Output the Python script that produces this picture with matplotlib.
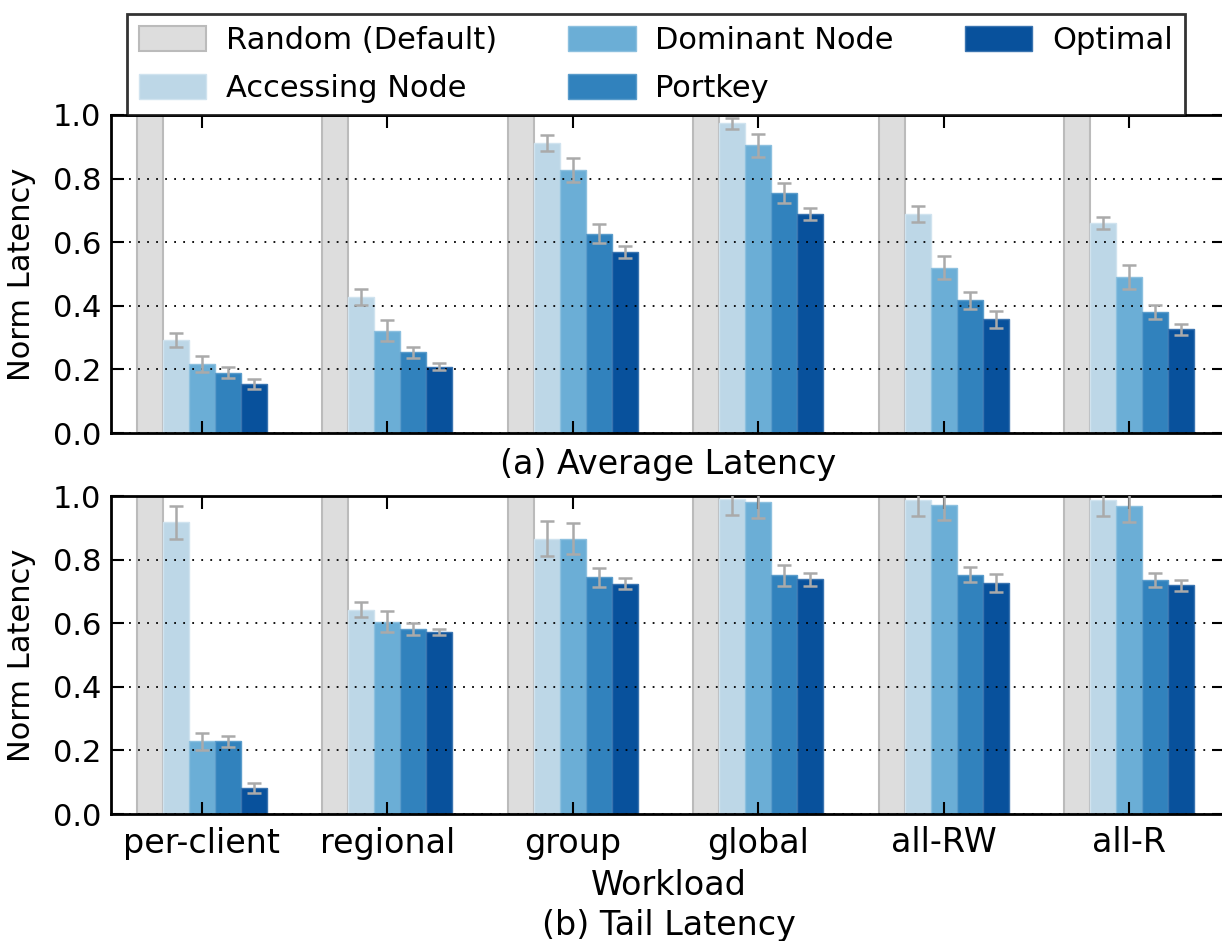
import matplotlib
matplotlib.use('Agg')
import matplotlib.pyplot as plt
import numpy as np

plt.rcParams['font.family'] = ['DejaVu Sans']

workloads = ['per-client', 'regional', 'group', 'global', 'all-RW', 'all-R']
series = ['Random (Default)', 'Accessing Node', 'Dominant Node', 'Portkey', 'Optimal']

# (a) Average latency
avg_random = [1.0, 1.0, 1.0, 1.0, 1.0, 1.0]
avg_accessing = [0.292, 0.428, 0.912, 0.974, 0.689, 0.660]
avg_dominant = [0.217, 0.321, 0.826, 0.905, 0.520, 0.491]
avg_portkey = [0.190, 0.254, 0.626, 0.754, 0.417, 0.380]
avg_optimal = [0.155, 0.209, 0.569, 0.689, 0.358, 0.326]
avg_accessing_err = [0.022, 0.025, 0.024, 0.018, 0.024, 0.020]
avg_dominant_err = [0.026, 0.033, 0.038, 0.036, 0.037, 0.037]
avg_portkey_err = [0.017, 0.018, 0.030, 0.032, 0.026, 0.023]
avg_optimal_err = [0.016, 0.010, 0.018, 0.020, 0.027, 0.018]

# (b) Tail latency
tail_random = [1.0, 1.0, 1.0, 1.0, 1.0, 1.0]
tail_accessing = [0.917, 0.643, 0.866, 0.989, 0.987, 0.987]
tail_dominant = [0.229, 0.605, 0.866, 0.981, 0.973, 0.967]
tail_portkey = [0.229, 0.582, 0.744, 0.751, 0.753, 0.735]
tail_optimal = [0.081, 0.572, 0.724, 0.738, 0.727, 0.719]
tail_accessing_err = [0.052, 0.024, 0.054, 0.050, 0.049, 0.049]
tail_dominant_err = [0.027, 0.033, 0.048, 0.050, 0.050, 0.050]
tail_portkey_err = [0.017, 0.018, 0.030, 0.033, 0.025, 0.022]
tail_optimal_err = [0.016, 0.010, 0.017, 0.021, 0.028, 0.017]

colors = ['#dddddd', '#bdd7e7', '#6baed6', '#3182bd', '#08519c']
edges = ['#bbbbbb', '#d0e3ef', '#8cc0df', '#5a9ccb', '#3a74b0']
W = 1222
H = 941
fig = plt.figure(figsize=(W / 100, H / 100), dpi=100)
ax1 = fig.add_axes([111 / W, (H - 433) / H, 1113 / W, 318 / H])
ax2 = fig.add_axes([111 / W, (H - 814) / H, 1113 / W, 318 / H])

x = np.arange(len(workloads))
bw = 0.14


def draw(ax, vals, errs):
    handles = []
    for i, (v, c, ec) in enumerate(zip(vals, colors, edges)):
        off = (i - 2) * bw
        lw = 1.5 if i == 0 else 1.0
        h = ax.bar(x + off, v, bw, color=c, edgecolor=ec, linewidth=lw,
                   label=series[i], zorder=2)
        handles.append(h)
        if errs[i] is not None:
            ax.errorbar(x + off, v, yerr=errs[i], fmt='none', ecolor='#aaaaaa',
                        elinewidth=1.8, capsize=5, capthick=1.8, zorder=3)
    ax.set_xlim(-0.49, 5.51)
    ax.set_ylim(0, 1.0)
    ax.set_yticks([0.0, 0.2, 0.4, 0.6, 0.8, 1.0])
    ax.set_yticklabels(['0.0', '0.2', '0.4', '0.6', '0.8', '1.0'])
    ax.set_xticks(x)
    ax.yaxis.grid(True, linestyle=(0, (1, 4)), color='black', linewidth=1.3, zorder=1)
    ax.set_axisbelow(False)
    ax.tick_params(axis='both', direction='in', length=9, width=1.5,
                   top=True, right=True, labelsize=22, pad=7)
    ax.tick_params(axis='x', labelsize=24, pad=9)
    for s in ax.spines.values():
        s.set_linewidth(2)
    ax.set_ylabel('Norm Latency', fontsize=22)
    ax.yaxis.set_label_coords(-0.067, 0.5)
    return handles


handles = draw(ax1, [avg_random, avg_accessing, avg_dominant, avg_portkey, avg_optimal],
               [None, avg_accessing_err, avg_dominant_err, avg_portkey_err, avg_optimal_err])
ax1.set_xticklabels([])
draw(ax2, [tail_random, tail_accessing, tail_dominant, tail_portkey, tail_optimal],
     [None, tail_accessing_err, tail_dominant_err, tail_portkey_err, tail_optimal_err])
ax2.set_xticklabels(workloads)

ax1.text(0.501, -0.1, '(a) Average Latency', transform=ax1.transAxes,
         ha='center', va='center', fontsize=24)
ax2.text(0.501, -0.225, 'Workload', transform=ax2.transAxes,
         ha='center', va='center', fontsize=24)
ax2.text(0.501, -0.35, '(b) Tail Latency', transform=ax2.transAxes,
         ha='center', va='center', fontsize=24)

leg = fig.legend(handles, series, ncol=3, loc='lower left',
                 bbox_to_anchor=(127 / W, (H - 115) / H, 1058 / W, 102 / H),
                 mode='expand', fontsize=22, frameon=True, fancybox=False,
                 handlelength=2.2, handleheight=0.9, handletextpad=0.65,
                 borderaxespad=0, labelspacing=0.6, borderpad=0.4)
leg.get_frame().set_edgecolor('black')
leg.get_frame().set_linewidth(2)
leg.set_zorder(10)

fig.savefig('out.png', dpi=100)
